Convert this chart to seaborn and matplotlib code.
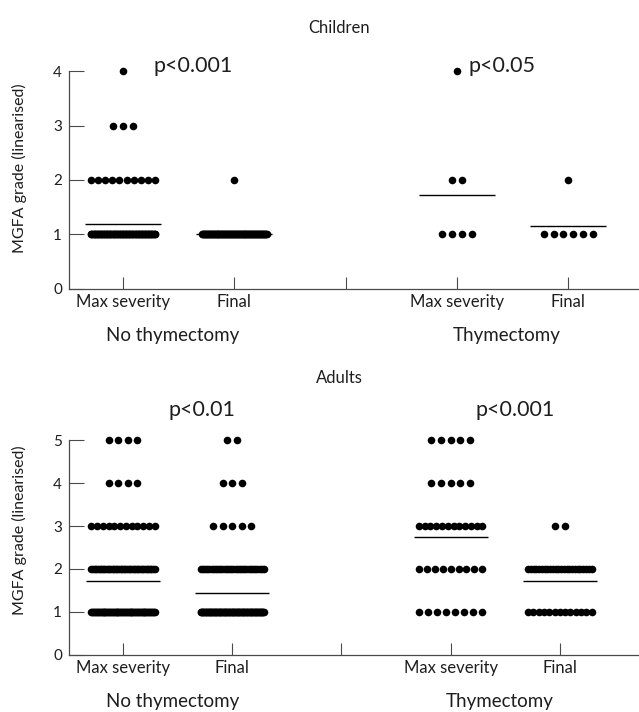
import numpy as np
import pandas as pd
import matplotlib
matplotlib.use("Agg")
import matplotlib.pyplot as plt
import seaborn as sns

# ---- data (number of patients at each MGFA grade, grade 1 first) ----
children_grades = [1, 2, 3, 4]
adults_grades = [1, 2, 3, 4, 5]

children_nothy_max = [86, 10, 3, 1]
children_nothy_final = [99, 1, 0, 0]
children_thy_max = [4, 2, 0, 1]
children_thy_final = [6, 1, 0, 0]

adults_nothy_max = [69, 40, 12, 4, 4]
adults_nothy_final = [89, 30, 5, 3, 2]
adults_thy_max = [8, 9, 12, 5, 5]
adults_thy_final = [13, 24, 2, 0, 0]

tick_labels = ["Max severity", "Final", "", "Max severity", "Final"]
group_labels = ["No thymectomy", "Thymectomy"]
p_children = ["p<0.001", "p<0.05"]
p_adults = ["p<0.01", "p<0.001"]
panel_titles = ["Children", "Adults"]
ylabel = "MGFA grade (linearised)"

sns.set_style("ticks")
plt.rcParams["font.family"] = ["Lato", "DejaVu Sans"]

AX_COL = "#4a4a4a"
TXT = "#1e1e1e"
SLOTS = [1, 2, 4, 5]


def dot_offsets(n, max_step=0.088, max_half=0.29):
    """Dot-plot layout: evenly spaced, compressed when the row is crowded."""
    if n <= 1:
        return np.zeros(n)
    step = min(max_step, 2 * max_half / (n - 1))
    return (np.arange(n) - (n - 1) / 2) * step


def long_table(grades, series):
    rows = []
    for slot, counts in zip(SLOTS, series):
        for g, c in zip(grades, counts):
            for off in dot_offsets(c):
                rows.append({"slot": slot, "x": slot + off, "grade": g})
    return pd.DataFrame(rows)


fig = plt.figure(figsize=(6.39, 7.12), dpi=100)
ax_top = fig.add_axes([0.108, 0.5948, 0.892, 0.328])
ax_bot = fig.add_axes([0.108, 0.0805, 0.892, 0.3584])


def draw_panel(ax, grades, series, ymax, ylim_top, xlim, pvals, p_pos):
    df = long_table(grades, series)
    sns.scatterplot(data=df, x="x", y="grade", color="black", s=30,
                    linewidth=0, legend=False, ax=ax, zorder=3)
    means = df.groupby("slot")["grade"].mean()
    ax.hlines(means.values, means.index - 0.34, means.index + 0.34,
              color="black", lw=1.0, zorder=2)
    ax.set_xlim(*xlim)
    ax.set_ylim(0, ylim_top)
    ax.set_yticks(range(0, ymax + 1))
    ax.set_xticks(range(1, 6))
    ax.set_xticklabels(tick_labels, fontsize=12)
    ax.tick_params(axis="y", direction="in", length=10.5, width=0.8,
                   colors=AX_COL, labelcolor=TXT, labelsize=11, pad=5)
    ax.tick_params(axis="x", direction="in", length=8.5, width=0.8,
                   colors=AX_COL, labelcolor=TXT, pad=4)
    for s in ["top", "right"]:
        ax.spines[s].set_visible(False)
    for s in ["left", "bottom"]:
        ax.spines[s].set_color(AX_COL)
        ax.spines[s].set_linewidth(0.9)
    ax.spines["left"].set_bounds(0, ymax)
    ax.set_xlabel("")
    ax.set_ylabel("")
    for gx, g in zip([1.45, 4.45], group_labels):
        ax.annotate(g, xy=(gx, 0), xycoords=("data", "axes fraction"),
                    xytext=(0, -34), textcoords="offset points",
                    ha="center", va="center", fontsize=13.5, color=TXT)
    for (px, py), p in zip(p_pos, pvals):
        ax.text(px, py, p, ha="center", va="center", fontsize=15.5, color=TXT)


draw_panel(ax_top, children_grades,
           [children_nothy_max, children_nothy_final, children_thy_max, children_thy_final],
           4, 4.3, (0.515, 5.636), p_children, [(1.63, 4.09), (4.405, 4.09)])
draw_panel(ax_bot, adults_grades,
           [adults_nothy_max, adults_nothy_final, adults_thy_max, adults_thy_final],
           5, 5.95, (0.505, 5.725), p_adults, [(1.72, 5.70), (4.59, 5.70)])

fig.text(339 / 639, 1 - 28 / 712, panel_titles[0], ha="center", va="center",
         fontsize=12, color=TXT)
fig.text(339 / 639, 1 - 378 / 712, panel_titles[1], ha="center", va="center",
         fontsize=12, color=TXT)
fig.text(19 / 639, 1 - 168 / 712, ylabel, rotation=90, ha="center", va="center",
         fontsize=11.5, color=TXT)
fig.text(19 / 639, 1 - 530 / 712, ylabel, rotation=90, ha="center", va="center",
         fontsize=11.5, color=TXT)

fig.savefig("out.png", dpi=100)
